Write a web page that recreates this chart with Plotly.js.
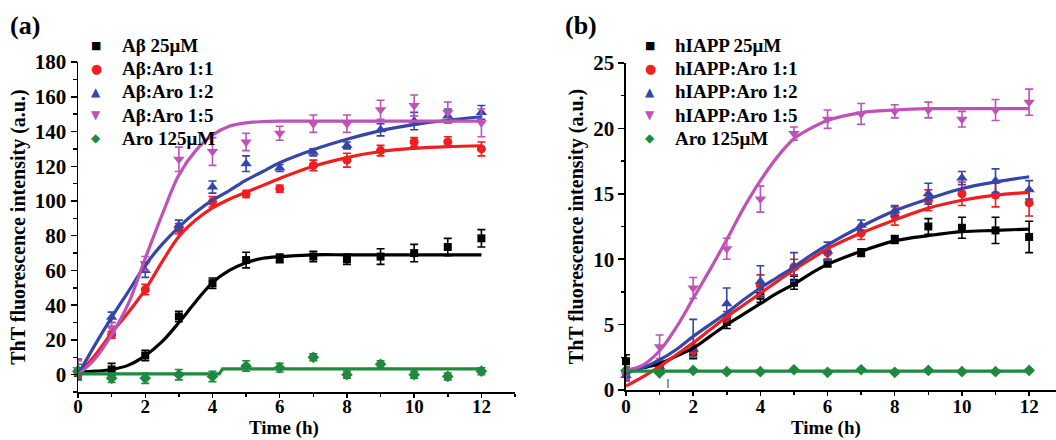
<!DOCTYPE html>
<html>
<head>
<meta charset="utf-8">
<script src="https://cdn.plot.ly/plotly-3.0.1.min.js"></script>
<style>html,body{margin:0;padding:0;background:#fff;}#chart{width:1056px;height:440px;}</style>
</head>
<body>
<div id="chart"></div>
<script>
// ---- data ----
const time = [0,1,2,3,4,5,6,7,8,9,10,11,12];
const fitTime = [0,0.5,1,1.5,2,2.5,3,3.5,4,4.5,5,5.5,6,7,8,9,10,11,12];
const xTickLabels = ['0','2','4','6','8','10','12'];

const seriesNamesA = ['Aβ 25μM','Aβ:Aro 1:1','Aβ:Aro 1:2','Aβ:Aro 1:5','Aro 125μM'];
const seriesNamesB = ['hIAPP 25μM','hIAPP:Aro 1:1','hIAPP:Aro 1:2','hIAPP:Aro 1:5','Aro 125μM'];

// panel (a) measured values
const aBlack   = [1,3,11,33.5,52.7,66,67,68,66.5,68,70,73.5,78.5];
const aRed     = [1,23,49,84,99.5,104,107,120.5,123.5,129,134,134,130];
const aBlue    = [3,33,60,86,108,121.5,119,128,132,141,146,149,151];
const aMagenta = [3,27,64,124,128.5,134,139,144.5,144.5,152.5,155,151,145];
const aGreen   = [2,-2,-2,0,-1,5,4,10,0,6,0,-1,2];
// panel (a) error bars
const aBlackErr   = [1,3.5,3,3,3,4.5,2.5,3,3,4.5,5,5,5];
const aRedErr     = [2,2,3,3,3,2,2,3,4,3,2.5,3,4];
const aBlueErr    = [6,3,4,3,3.5,4.5,2,2,2,3.5,5,4,4];
const aMagentaErr = [5,3,4,7,8,5,4,5,5,5.5,6,6,8];
const aGreenErr   = [4,2.5,3,3,3,3,2.5,2,2,2,2,2,2];
// panel (a) fitted curves
const aBlackFit   = [1.5,2,3,5.5,11,19,30,42,53,60,64.5,67,68,69,69,69,69,69,69];
const aRedFit     = [0,11,24,36,49,65,79.5,89,96,101,105,109,113,120,125,128.5,130.3,131.3,131.8];
const aBlueFit    = [0,17,33,48,63,75,85,93.5,100.5,106,112,117,122,129.5,135.5,140.5,144,146.5,148.5];
const aMagentaFit = [0,9,23,41,67,92,115,129,138,143,145,145.7,146,146,146,146,146,146,146];
const aGreenFitT  = [0,4.2,4.3,12];
const aGreenFit   = [0.5,0.5,3.3,3.3];

// panel (b) measured values
const bBlack   = [2.2,1.9,2.9,5.2,7.2,8.2,9.7,10.5,11.5,12.5,12.4,12.2,11.7];
const bRed     = [1.3,1.9,3.0,5.6,8.0,9.4,10.5,12.0,13.3,14.5,15.0,14.9,14.3];
const bBlue    = [1.1,1.8,3.1,6.6,8.3,9.4,10.6,12.6,13.7,15.0,16.2,16.0,15.3];
const bMagenta = [1.3,3.3,7.8,10.8,14.6,19.6,20.7,21.1,21.3,21.4,20.7,21.4,22.0];
const bGreen   = [1.5,1.3,1.5,1.4,1.4,1.55,1.35,1.55,1.35,1.5,1.4,1.4,1.5];
// panel (b) error bars
const bBlackErr   = [0.5,0.3,0.5,0.5,0.5,0.5,0.3,0.3,0.3,0.6,0.8,1.0,1.2];
const bRedErr     = [0.4,0.3,0.5,0.4,0.8,0.6,0.5,0.5,0.7,0.8,0.9,0.9,1.0];
const bBlueErr    = [0.4,0.3,2.3,1.2,1.2,1.1,0.7,0.4,0.4,0.8,0.5,0.9,0.7];
const bBlueErrMinus = [0.4,0.3,0.5,1.2,1.2,1.1,0.7,0.4,0.4,0.8,0.5,0.9,0.7];
const bMagentaErr = [0.5,0.9,0.8,0.8,1.0,0.5,0.7,0.8,0.5,0.6,0.6,0.8,1.0];
const bGreenErr   = [0.1,0.1,0.1,0.1,0.1,0.1,0.1,0.1,0.1,0.1,0.1,0.1,0.1];
// panel (b) fitted curves
const bBlackFit   = [1.5,1.7,2.0,2.6,3.2,4.1,5.0,5.8,6.6,7.4,8.1,8.9,9.6,10.6,11.4,11.8,12.1,12.2,12.3];
const bRedFit     = [0.3,1.0,1.8,2.7,3.6,4.6,5.6,6.5,7.4,8.3,9.2,10.0,10.8,12.0,13.0,13.9,14.5,14.9,15.1];
const bBlueFit    = [1.3,1.7,2.3,3.1,4.1,5.0,5.9,6.9,7.8,8.6,9.4,10.3,11.1,12.5,13.7,14.6,15.4,15.9,16.3];
const bMagentaFit = [1.5,1.9,3.0,4.8,7.0,9.2,11.5,13.9,16.0,17.8,19.2,20.0,20.6,21.2,21.4,21.5,21.5,21.5,21.5];
const bGreenFitT  = [0,12];
const bGreenFit   = [1.45,1.45];

// ---- styles ----
const colors = ['#000000','#f01e1e','#3446a8','#bf52b8','#1d8a3e'];
const symbols = ['square','circle','triangle-up','triangle-down','diamond'];
const legendGlyphs = ['■','●','▲','▼','◆'];
const legendGlyphSizes = [11,13,12,12,12];
const msizes = [8,9,10,10,9];
const serif = 'Liberation Serif, Times New Roman, serif';

function dataTrace(y, err, idx, xa, ya, errMinus) {
  const e = {type:'data', array: err, visible:true, color: colors[idx], thickness:1.6, width:4};
  if (errMinus) { e.symmetric = false; e.arrayminus = errMinus; }
  return {x: time, y: y, mode:'markers', xaxis: xa, yaxis: ya, showlegend:false,
    marker:{symbol: symbols[idx], size: msizes[idx], color: colors[idx]}, error_y: e, cliponaxis:false};
}
function fitTrace(xs, y, idx, xa, ya, shape) {
  return {x: xs, y: y, mode:'lines', xaxis: xa, yaxis: ya, showlegend:false, hoverinfo:'skip',
    line:{color: colors[idx], width:3.2, shape: shape || 'spline', smoothing:1}};
}

const traces = [
  dataTrace(aBlack, aBlackErr, 0, 'x','y'),
  dataTrace(aRed, aRedErr, 1, 'x','y'),
  dataTrace(aBlue, aBlueErr, 2, 'x','y'),
  dataTrace(aMagenta, aMagentaErr, 3, 'x','y'),
  dataTrace(aGreen, aGreenErr, 4, 'x','y'),
  fitTrace(fitTime, aBlackFit, 0, 'x','y'),
  fitTrace(fitTime, aRedFit, 1, 'x','y'),
  fitTrace(fitTime, aBlueFit, 2, 'x','y'),
  fitTrace(fitTime, aMagentaFit, 3, 'x','y'),
  fitTrace(aGreenFitT, aGreenFit, 4, 'x','y','linear'),
  dataTrace(bBlack, bBlackErr, 0, 'x2','y2'),
  dataTrace(bRed, bRedErr, 1, 'x2','y2'),
  dataTrace(bBlue, bBlueErr, 2, 'x2','y2', bBlueErrMinus),
  dataTrace(bMagenta, bMagentaErr, 3, 'x2','y2'),
  dataTrace(bGreen, bGreenErr, 4, 'x2','y2'),
  fitTrace(fitTime, bBlackFit, 0, 'x2','y2'),
  fitTrace(fitTime, bRedFit, 1, 'x2','y2'),
  fitTrace(fitTime, bBlueFit, 2, 'x2','y2'),
  fitTrace(fitTime, bMagentaFit, 3, 'x2','y2'),
  fitTrace(bGreenFitT, bGreenFit, 4, 'x2','y2','linear')
];

const tickFont = {family: serif, size: 21, color:'#000', weight:'bold'};
const xTickFont = {family: serif, size: 19, color:'#000', weight:'bold'};
const titleFont = {family: serif, size: 20, color:'#000', weight:'bold'};
const minorX = {dtick:1, ticklen:3, tickwidth:1.5, tickcolor:'#000', ticks:'outside'};
function axisBase(extra) {
  return Object.assign({
    showline:true, linecolor:'#000', linewidth:1.5, ticks:'outside', ticklen:6, tickwidth:1.5, tickcolor:'#000',
    showgrid:false, zeroline:false, tickfont: tickFont, automargin:false, fixedrange:true
  }, extra);
}

// legend built from the series names
const annotations = [];
function addLegend(names, symX, textX) {
  const rowsY = [45, 68, 91.5, 115, 138];
  names.forEach((n, i) => {
    annotations.push({text: legendGlyphs[i], xref:'paper', yref:'paper', x: symX/1056, y: 1 - rowsY[i]/440,
      xanchor:'center', yanchor:'middle', showarrow:false,
      font:{family:'DejaVu Sans', size: legendGlyphSizes[i], color: colors[i]}});
    annotations.push({text: n, xref:'paper', yref:'paper', x: textX/1056, y: 1 - rowsY[i]/440,
      xanchor:'left', yanchor:'middle', showarrow:false,
      font:{family: serif, size: 19, color:'#000', weight:'bold'}});
  });
}
addLegend(seriesNamesA, 96, 120);
addLegend(seriesNamesB, 650, 673);
annotations.push(
  {text:'(a)', xref:'paper', yref:'paper', x:8/1056, y:1-26/440, xanchor:'left', yanchor:'middle',
   showarrow:false, font:{family: serif, size:26, color:'#000', weight:'bold'}},
  {text:'(b)', xref:'paper', yref:'paper', x:563/1056, y:1-26/440, xanchor:'left', yanchor:'middle',
   showarrow:false, font:{family: serif, size:26, color:'#000', weight:'bold'}},
  {text:'Time (h)', xref:'paper', yref:'paper', x:284/1056, y:0, xanchor:'center', yanchor:'bottom',
   showarrow:false, borderpad:0, font:{family: serif, size:19, color:'#000', weight:'bold'}},
  {text:'Time (h)', xref:'paper', yref:'paper', x:826/1056, y:0, xanchor:'center', yanchor:'bottom',
   showarrow:false, borderpad:0, font:{family: serif, size:19, color:'#000', weight:'bold'}}
);

const layout = {
  width:1056, height:440,
  margin:{l:0,r:0,t:0,b:0},
  paper_bgcolor:'#fff', plot_bgcolor:'rgba(0,0,0,0)',
  font:{family: serif, color:'#000'},
  showlegend:false,
  xaxis: axisBase({domain:[0.0739,0.4877], range:[0,13], anchor:'y', tickmode:'array', ticklen:4,
    ticklabelstandoff:-7,
    tickvals:[0,2,4,6,8,10,12], ticktext:xTickLabels, tickfont:xTickFont, minor:minorX}),
  yaxis: axisBase({domain:[0.109,0.859], range:[-10,180], anchor:'x', dtick:20, tick0:0,
    minor:{dtick:10, ticklen:3.5, tickwidth:1.5, tickcolor:'#000', ticks:'outside'},
    title:{text:'ThT fluorescence intensity (a.u.)', font:titleFont, standoff:4}}),
  xaxis2: axisBase({domain:[0.5928,1], range:[0,12.8], anchor:'y2', tickmode:'array', ticklen:4,
    ticklabelstandoff:-5,
    tickvals:[0,2,4,6,8,10,12], ticktext:xTickLabels, tickfont:xTickFont, minor:minorX}),
  yaxis2: axisBase({domain:[0.1136,0.857], range:[0,25], anchor:'x2', dtick:5, tick0:0,
    minor:{dtick:2.5, ticklen:3.5, tickwidth:1.5, tickcolor:'#000', ticks:'outside'},
    title:{text:'ThT fluorescence intensity (a.u.)', font:titleFont, standoff:4}}),
  annotations: annotations,
  shapes:[
    {type:'line', xref:'x2', yref:'y2', x0:1.25, x1:1.25, y0:0.15, y1:1.35,
     line:{color:'#4a7fd0', width:1.5, dash:'dash'}}
  ]
};

Plotly.newPlot('chart', traces, layout, {staticPlot:true, displayModeBar:false});
</script>
</body>
</html>
